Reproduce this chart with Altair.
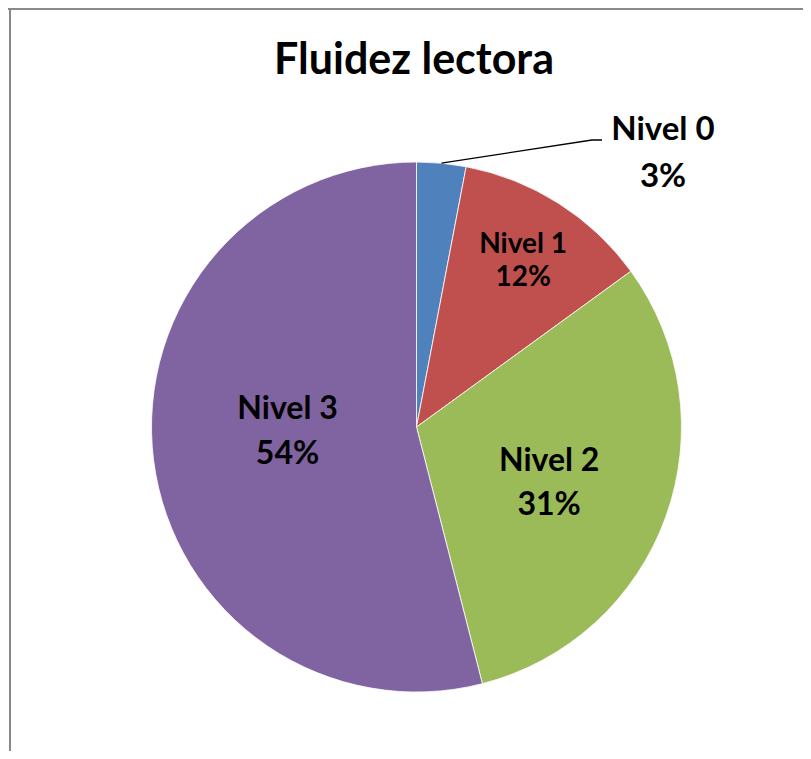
import altair as alt
import pandas as pd
import math

# ---- data ----
TITLE = "Fluidez lectora"
niveles = ["Nivel 0", "Nivel 1", "Nivel 2", "Nivel 3"]
pct = [3, 12, 31, 54]
colors = ["#4F81BD", "#C0504D", "#9BBB59", "#8064A2"]

df = pd.DataFrame({
    "nivel": niveles,
    "pct": pct,
    "orden": list(range(len(niveles))),
})
df["label"] = df["nivel"] + "\n" + df["pct"].astype(str) + "%"

# ---- layout (pixels inside the chart) ----
W, H = 795, 743
CX, CY, R = 408.5, 419, 265
FONT = "Lato"

theta0 = (pct[0] / 2) / sum(pct) * 2 * math.pi
leader = pd.DataFrame({
    "x": [CX + R * math.sin(theta0), 584, 594],
    "y": [CY - R * math.cos(theta0), 132, 132],
    "k": [0, 1, 2],
})

base = alt.Chart(df)

arcs = base.mark_arc(radius=R, stroke="#ffffff", strokeWidth=0.8).encode(
    theta=alt.Theta("pct:Q", stack=True),
    color=alt.Color("nivel:N", scale=alt.Scale(domain=niveles, range=colors), legend=None),
    order=alt.Order("orden:Q"),
    x=alt.value(CX),
    y=alt.value(CY),
)


def inner_label(name, radius, size, line_h, dy):
    return (
        base.transform_window(cum="sum(pct)", sort=[alt.SortField("orden")])
        .transform_calculate(mid="datum.cum - datum.pct / 2")
        .transform_filter(alt.datum.nivel == name)
        .mark_text(radius=radius, font=FONT, fontWeight="bold", fontSize=size,
                   lineBreak="\n", lineHeight=line_h, color="#000000",
                   align="center", baseline="middle", dy=dy)
        .encode(
            theta=alt.Theta("mid:Q", stack=False, scale=alt.Scale(domain=[0, 100])),
            text="label:N",
            x=alt.value(CX),
            y=alt.value(CY),
        )
    )


lab1 = inner_label("Nivel 1", 199, 28, 33, -14)
lab2 = inner_label("Nivel 2", 141, 32, 44, -14)
lab3 = inner_label("Nivel 3", 130, 32, 45, -34)

lab0 = (
    base.transform_filter(alt.datum.nivel == "Nivel 0")
    .mark_text(font=FONT, fontWeight="bold", fontSize=33, lineBreak="\n", lineHeight=47,
               color="#000000", align="center", baseline="alphabetic")
    .encode(text="label:N", x=alt.value(655), y=alt.value(132))
)

line0 = alt.Chart(leader).mark_line(color="#000000", strokeWidth=1.3).encode(
    x=alt.X("x:Q", scale=None, axis=None),
    y=alt.Y("y:Q", scale=None, axis=None),
    order="k:Q",
)

title = alt.Chart(pd.DataFrame({"t": [TITLE]})).mark_text(
    font=FONT, fontWeight="bold", fontSize=43, color="#000000",
    align="center", baseline="alphabetic",
).encode(text="t:N", x=alt.value(406), y=alt.value(66))

one = pd.DataFrame({"a": [0]})
border_left = alt.Chart(one).mark_rule(color="#898989", strokeWidth=2).encode(
    x=alt.value(2), y=alt.value(0), y2=alt.value(H)
)
border_top = alt.Chart(one).mark_rule(color="#898989", strokeWidth=2).encode(
    x=alt.value(0), x2=alt.value(W), y=alt.value(1)
)

chart = (
    alt.layer(arcs, line0, lab0, lab1, lab2, lab3, title, border_left, border_top)
    .properties(width=W, height=H, autosize=alt.AutoSizeParams(type="none"), padding=0,
                background="#ffffff")
    .configure_view(strokeWidth=0)
)

chart.save("out.html", embed_options={"renderer": "svg", "actions": False})
